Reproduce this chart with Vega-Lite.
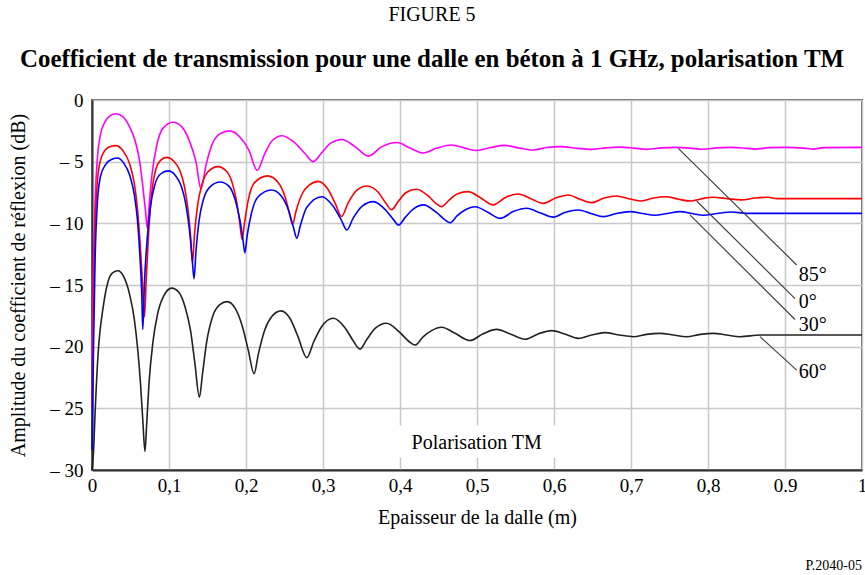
{
  "$schema": "https://vega.github.io/schema/vega-lite/v6.json",
  "autosize": "none",
  "width": 770,
  "height": 370,
  "padding": {"left": 92, "top": 100, "right": 3, "bottom": 105},
  "background": "white",
  "config": {
    "view": {"stroke": "#666", "strokeWidth": 2},
    "font": "Liberation Serif, Times New Roman, serif"
  },
  "title": {
    "text": "FIGURE 5",
    "subtitle": "Coefficient de transmission pour une dalle en béton à 1 GHz, polarisation TM",
    "font": "Liberation Serif, Times New Roman, serif",
    "fontSize": 20,
    "fontWeight": "normal",
    "color": "black",
    "subtitleFont": "Liberation Serif, Times New Roman, serif",
    "subtitleFontSize": 24.9,
    "subtitleFontWeight": "bold",
    "subtitleColor": "black",
    "subtitlePadding": 22,
    "anchor": "middle",
    "dx": -45,
    "offset": 19
  },
  "datasets": {
    "curves": [
      {"s":"85°","x":0,"y":-21},{"s":"85°","x":0.002,"y":-13},{"s":"85°","x":0.004,"y":-8.2},{"s":"85°","x":0.007,"y":-4.7},{"s":"85°","x":0.011,"y":-2.8},{"s":"85°","x":0.017,"y":-1.75},{"s":"85°","x":0.023,"y":-1.3},{"s":"85°","x":0.031,"y":-1.12},{"s":"85°","x":0.040,"y":-1.35},{"s":"85°","x":0.049,"y":-2.2},{"s":"85°","x":0.056,"y":-3.3},{"s":"85°","x":0.062,"y":-5.0},{"s":"85°","x":0.066,"y":-7.0},{"s":"85°","x":0.0695,"y":-9.0},{"s":"85°","x":0.0718,"y":-10.4},{"s":"85°","x":0.0745,"y":-8.3},{"s":"85°","x":0.078,"y":-6.0},{"s":"85°","x":0.084,"y":-3.7},{"s":"85°","x":0.092,"y":-2.3},{"s":"85°","x":0.1055,"y":-1.8},{"s":"85°","x":0.117,"y":-2.2},{"s":"85°","x":0.127,"y":-3.4},{"s":"85°","x":0.135,"y":-5.0},{"s":"85°","x":0.1415,"y":-7.2},{"s":"85°","x":0.148,"y":-5.3},{"s":"85°","x":0.156,"y":-3.6},{"s":"85°","x":0.166,"y":-2.75},{"s":"85°","x":0.179,"y":-2.5},{"s":"85°","x":0.192,"y":-3.0},{"s":"85°","x":0.204,"y":-4.1},{"s":"85°","x":0.2145,"y":-5.7},{"s":"85°","x":0.224,"y":-4.4},{"s":"85°","x":0.234,"y":-3.3},{"s":"85°","x":0.247,"y":-2.9},{"s":"85°","x":0.262,"y":-3.4},{"s":"85°","x":0.276,"y":-4.3},{"s":"85°","x":0.2875,"y":-5.0},{"s":"85°","x":0.298,"y":-4.3},{"s":"85°","x":0.310,"y":-3.5},{"s":"85°","x":0.3245,"y":-3.2},{"s":"85°","x":0.342,"y":-3.8},{"s":"85°","x":0.359,"y":-4.55},{"s":"85°","x":0.376,"y":-3.8},{"s":"85°","x":0.396,"y":-3.45},{"s":"85°","x":0.413,"y":-3.9},{"s":"85°","x":0.430,"y":-4.3},{"s":"85°","x":0.448,"y":-3.9},{"s":"85°","x":0.467,"y":-3.65},{"s":"85°","x":0.484,"y":-3.9},{"s":"85°","x":0.500,"y":-4.1},{"s":"85°","x":0.518,"y":-3.85},{"s":"85°","x":0.536,"y":-3.68},{"s":"85°","x":0.555,"y":-3.9},{"s":"85°","x":0.573,"y":-4.05},{"s":"85°","x":0.590,"y":-3.85},{"s":"85°","x":0.608,"y":-3.78},{"s":"85°","x":0.630,"y":-3.92},{"s":"85°","x":0.649,"y":-4.0},{"s":"85°","x":0.668,"y":-3.88},{"s":"85°","x":0.686,"y":-3.82},{"s":"85°","x":0.704,"y":-3.9},{"s":"85°","x":0.720,"y":-4.0},{"s":"85°","x":0.740,"y":-3.88},{"s":"85°","x":0.758,"y":-3.84},{"s":"85°","x":0.776,"y":-3.9},{"s":"85°","x":0.793,"y":-3.99},{"s":"85°","x":0.811,"y":-3.88},{"s":"85°","x":0.830,"y":-3.84},{"s":"85°","x":0.850,"y":-3.92},{"s":"85°","x":0.862,"y":-3.98},{"s":"85°","x":0.880,"y":-3.86},{"s":"85°","x":0.900,"y":-3.84},{"s":"85°","x":0.925,"y":-3.9},{"s":"85°","x":0.937,"y":-3.98},{"s":"85°","x":0.950,"y":-3.86},{"s":"85°","x":1.0,"y":-3.84},

      {"s":"0°","x":0,"y":-25},{"s":"0°","x":0.002,"y":-16},{"s":"0°","x":0.004,"y":-10.3},{"s":"0°","x":0.007,"y":-6.6},{"s":"0°","x":0.011,"y":-4.9},{"s":"0°","x":0.018,"y":-4.0},{"s":"0°","x":0.025,"y":-3.75},{"s":"0°","x":0.031,"y":-3.7},{"s":"0°","x":0.040,"y":-4.1},{"s":"0°","x":0.049,"y":-5.2},{"s":"0°","x":0.055,"y":-6.8},{"s":"0°","x":0.059,"y":-8.8},{"s":"0°","x":0.0625,"y":-11.6},{"s":"0°","x":0.0655,"y":-14.8},{"s":"0°","x":0.068,"y":-17.6},{"s":"0°","x":0.0705,"y":-14.5},{"s":"0°","x":0.0735,"y":-10.8},{"s":"0°","x":0.0775,"y":-7.6},{"s":"0°","x":0.083,"y":-5.6},{"s":"0°","x":0.089,"y":-4.9},{"s":"0°","x":0.097,"y":-4.65},{"s":"0°","x":0.106,"y":-4.95},{"s":"0°","x":0.114,"y":-5.7},{"s":"0°","x":0.120,"y":-7.0},{"s":"0°","x":0.1245,"y":-8.8},{"s":"0°","x":0.128,"y":-11.0},{"s":"0°","x":0.1305,"y":-13.2},{"s":"0°","x":0.133,"y":-11.0},{"s":"0°","x":0.137,"y":-8.6},{"s":"0°","x":0.143,"y":-6.8},{"s":"0°","x":0.151,"y":-5.8},{"s":"0°","x":0.1635,"y":-5.4},{"s":"0°","x":0.175,"y":-5.8},{"s":"0°","x":0.1825,"y":-6.8},{"s":"0°","x":0.188,"y":-8.3},{"s":"0°","x":0.192,"y":-10.0},{"s":"0°","x":0.195,"y":-11.3},{"s":"0°","x":0.198,"y":-10.0},{"s":"0°","x":0.203,"y":-8.1},{"s":"0°","x":0.211,"y":-6.7},{"s":"0°","x":0.228,"y":-6.15},{"s":"0°","x":0.242,"y":-6.7},{"s":"0°","x":0.251,"y":-7.9},{"s":"0°","x":0.2565,"y":-9.2},{"s":"0°","x":0.2605,"y":-10.1},{"s":"0°","x":0.265,"y":-9.0},{"s":"0°","x":0.273,"y":-7.6},{"s":"0°","x":0.282,"y":-6.9},{"s":"0°","x":0.294,"y":-6.6},{"s":"0°","x":0.306,"y":-7.2},{"s":"0°","x":0.316,"y":-8.4},{"s":"0°","x":0.324,"y":-9.45},{"s":"0°","x":0.333,"y":-8.3},{"s":"0°","x":0.344,"y":-7.3},{"s":"0°","x":0.3575,"y":-6.97},{"s":"0°","x":0.372,"y":-7.5},{"s":"0°","x":0.382,"y":-8.4},{"s":"0°","x":0.389,"y":-8.9},{"s":"0°","x":0.398,"y":-8.2},{"s":"0°","x":0.408,"y":-7.5},{"s":"0°","x":0.4215,"y":-7.24},{"s":"0°","x":0.437,"y":-7.8},{"s":"0°","x":0.447,"y":-8.4},{"s":"0°","x":0.454,"y":-8.65},{"s":"0°","x":0.464,"y":-8.1},{"s":"0°","x":0.475,"y":-7.6},{"s":"0°","x":0.4885,"y":-7.43},{"s":"0°","x":0.504,"y":-7.9},{"s":"0°","x":0.521,"y":-8.5},{"s":"0°","x":0.537,"y":-7.9},{"s":"0°","x":0.5535,"y":-7.62},{"s":"0°","x":0.570,"y":-8.0},{"s":"0°","x":0.586,"y":-8.38},{"s":"0°","x":0.602,"y":-7.95},{"s":"0°","x":0.6185,"y":-7.7},{"s":"0°","x":0.634,"y":-8.05},{"s":"0°","x":0.649,"y":-8.32},{"s":"0°","x":0.665,"y":-7.95},{"s":"0°","x":0.681,"y":-7.78},{"s":"0°","x":0.697,"y":-8.0},{"s":"0°","x":0.712,"y":-8.19},{"s":"0°","x":0.729,"y":-7.95},{"s":"0°","x":0.746,"y":-7.84},{"s":"0°","x":0.762,"y":-8.05},{"s":"0°","x":0.777,"y":-8.19},{"s":"0°","x":0.792,"y":-8.0},{"s":"0°","x":0.807,"y":-7.89},{"s":"0°","x":0.825,"y":-8.0},{"s":"0°","x":0.8435,"y":-8.1},{"s":"0°","x":0.861,"y":-7.95},{"s":"0°","x":0.878,"y":-7.89},{"s":"0°","x":0.890,"y":-8.0},{"s":"0°","x":1.0,"y":-8.0},

      {"s":"30°","x":0,"y":-28.4},{"s":"30°","x":0.002,"y":-20},{"s":"30°","x":0.004,"y":-13},{"s":"30°","x":0.007,"y":-8.3},{"s":"30°","x":0.011,"y":-6.2},{"s":"30°","x":0.018,"y":-5.2},{"s":"30°","x":0.026,"y":-4.8},{"s":"30°","x":0.0335,"y":-4.7},{"s":"30°","x":0.041,"y":-5.1},{"s":"30°","x":0.049,"y":-6.1},{"s":"30°","x":0.055,"y":-7.7},{"s":"30°","x":0.059,"y":-9.7},{"s":"30°","x":0.062,"y":-12.4},{"s":"30°","x":0.0645,"y":-15.5},{"s":"30°","x":0.066,"y":-18.6},{"s":"30°","x":0.068,"y":-15.0},{"s":"30°","x":0.0715,"y":-11.4},{"s":"30°","x":0.076,"y":-8.6},{"s":"30°","x":0.0815,"y":-6.9},{"s":"30°","x":0.089,"y":-6.0},{"s":"30°","x":0.099,"y":-5.75},{"s":"30°","x":0.108,"y":-6.1},{"s":"30°","x":0.116,"y":-7.0},{"s":"30°","x":0.122,"y":-8.5},{"s":"30°","x":0.1265,"y":-10.5},{"s":"30°","x":0.130,"y":-12.8},{"s":"30°","x":0.1325,"y":-14.5},{"s":"30°","x":0.135,"y":-12.3},{"s":"30°","x":0.139,"y":-9.8},{"s":"30°","x":0.145,"y":-8.0},{"s":"30°","x":0.154,"y":-7.0},{"s":"30°","x":0.1665,"y":-6.65},{"s":"30°","x":0.178,"y":-7.0},{"s":"30°","x":0.186,"y":-8.1},{"s":"30°","x":0.192,"y":-9.7},{"s":"30°","x":0.196,"y":-11.3},{"s":"30°","x":0.1985,"y":-12.4},{"s":"30°","x":0.2015,"y":-11.0},{"s":"30°","x":0.207,"y":-9.2},{"s":"30°","x":0.215,"y":-7.9},{"s":"30°","x":0.233,"y":-7.3},{"s":"30°","x":0.246,"y":-7.8},{"s":"30°","x":0.255,"y":-8.9},{"s":"30°","x":0.2615,"y":-10.3},{"s":"30°","x":0.266,"y":-11.2},{"s":"30°","x":0.2705,"y":-10.2},{"s":"30°","x":0.279,"y":-8.7},{"s":"30°","x":0.2985,"y":-7.84},{"s":"30°","x":0.313,"y":-8.6},{"s":"30°","x":0.3235,"y":-9.7},{"s":"30°","x":0.331,"y":-10.54},{"s":"30°","x":0.339,"y":-9.6},{"s":"30°","x":0.351,"y":-8.6},{"s":"30°","x":0.3655,"y":-8.24},{"s":"30°","x":0.381,"y":-8.9},{"s":"30°","x":0.3915,"y":-9.7},{"s":"30°","x":0.398,"y":-10.14},{"s":"30°","x":0.407,"y":-9.5},{"s":"30°","x":0.418,"y":-8.8},{"s":"30°","x":0.4305,"y":-8.5},{"s":"30°","x":0.447,"y":-9.1},{"s":"30°","x":0.458,"y":-9.7},{"s":"30°","x":0.465,"y":-9.95},{"s":"30°","x":0.474,"y":-9.4},{"s":"30°","x":0.485,"y":-8.9},{"s":"30°","x":0.4975,"y":-8.65},{"s":"30°","x":0.514,"y":-9.1},{"s":"30°","x":0.530,"y":-9.6},{"s":"30°","x":0.547,"y":-9.05},{"s":"30°","x":0.5645,"y":-8.78},{"s":"30°","x":0.582,"y":-9.15},{"s":"30°","x":0.599,"y":-9.5},{"s":"30°","x":0.615,"y":-9.1},{"s":"30°","x":0.6315,"y":-8.92},{"s":"30°","x":0.648,"y":-9.2},{"s":"30°","x":0.664,"y":-9.46},{"s":"30°","x":0.681,"y":-9.2},{"s":"30°","x":0.699,"y":-9.05},{"s":"30°","x":0.715,"y":-9.2},{"s":"30°","x":0.731,"y":-9.35},{"s":"30°","x":0.747,"y":-9.2},{"s":"30°","x":0.764,"y":-9.05},{"s":"30°","x":0.779,"y":-9.2},{"s":"30°","x":0.794,"y":-9.35},{"s":"30°","x":0.812,"y":-9.2},{"s":"30°","x":0.8305,"y":-9.08},{"s":"30°","x":0.850,"y":-9.19},{"s":"30°","x":1.0,"y":-9.19},

      {"s":"60°","x":0,"y":-30},{"s":"60°","x":0.002,"y":-28.5},{"s":"60°","x":0.004,"y":-25.4},{"s":"60°","x":0.008,"y":-20.5},{"s":"60°","x":0.0145,"y":-16.8},{"s":"60°","x":0.021,"y":-14.7},{"s":"60°","x":0.027,"y":-14.0},{"s":"60°","x":0.0335,"y":-13.85},{"s":"60°","x":0.041,"y":-14.3},{"s":"60°","x":0.049,"y":-15.8},{"s":"60°","x":0.055,"y":-17.8},{"s":"60°","x":0.0595,"y":-20.3},{"s":"60°","x":0.063,"y":-23.0},{"s":"60°","x":0.066,"y":-26.0},{"s":"60°","x":0.0688,"y":-28.5},{"s":"60°","x":0.071,"y":-26.3},{"s":"60°","x":0.074,"y":-23.0},{"s":"60°","x":0.079,"y":-19.7},{"s":"60°","x":0.085,"y":-17.4},{"s":"60°","x":0.093,"y":-15.9},{"s":"60°","x":0.1035,"y":-15.25},{"s":"60°","x":0.113,"y":-15.6},{"s":"60°","x":0.121,"y":-16.8},{"s":"60°","x":0.128,"y":-18.7},{"s":"60°","x":0.1335,"y":-21.3},{"s":"60°","x":0.1395,"y":-24.1},{"s":"60°","x":0.1435,"y":-22.2},{"s":"60°","x":0.149,"y":-19.6},{"s":"60°","x":0.157,"y":-17.5},{"s":"60°","x":0.166,"y":-16.6},{"s":"60°","x":0.1755,"y":-16.35},{"s":"60°","x":0.186,"y":-16.9},{"s":"60°","x":0.195,"y":-18.3},{"s":"60°","x":0.203,"y":-20.3},{"s":"60°","x":0.2105,"y":-22.2},{"s":"60°","x":0.216,"y":-20.6},{"s":"60°","x":0.224,"y":-18.7},{"s":"60°","x":0.233,"y":-17.6},{"s":"60°","x":0.2455,"y":-17.1},{"s":"60°","x":0.257,"y":-17.7},{"s":"60°","x":0.267,"y":-19.1},{"s":"60°","x":0.279,"y":-20.9},{"s":"60°","x":0.288,"y":-19.6},{"s":"60°","x":0.298,"y":-18.4},{"s":"60°","x":0.3135,"y":-17.7},{"s":"60°","x":0.329,"y":-18.5},{"s":"60°","x":0.340,"y":-19.6},{"s":"60°","x":0.348,"y":-20.2},{"s":"60°","x":0.357,"y":-19.4},{"s":"60°","x":0.368,"y":-18.5},{"s":"60°","x":0.3825,"y":-18.1},{"s":"60°","x":0.399,"y":-18.8},{"s":"60°","x":0.412,"y":-19.6},{"s":"60°","x":0.4195,"y":-19.87},{"s":"60°","x":0.430,"y":-19.2},{"s":"60°","x":0.441,"y":-18.7},{"s":"60°","x":0.454,"y":-18.43},{"s":"60°","x":0.471,"y":-18.9},{"s":"60°","x":0.491,"y":-19.5},{"s":"60°","x":0.508,"y":-18.95},{"s":"60°","x":0.5255,"y":-18.6},{"s":"60°","x":0.544,"y":-19.0},{"s":"60°","x":0.5625,"y":-19.4},{"s":"60°","x":0.580,"y":-18.95},{"s":"60°","x":0.597,"y":-18.7},{"s":"60°","x":0.615,"y":-19.0},{"s":"60°","x":0.6315,"y":-19.33},{"s":"60°","x":0.649,"y":-19.05},{"s":"60°","x":0.666,"y":-18.86},{"s":"60°","x":0.685,"y":-19.05},{"s":"60°","x":0.703,"y":-19.19},{"s":"60°","x":0.720,"y":-19.0},{"s":"60°","x":0.7375,"y":-18.92},{"s":"60°","x":0.755,"y":-19.05},{"s":"60°","x":0.772,"y":-19.19},{"s":"60°","x":0.790,"y":-19.0},{"s":"60°","x":0.807,"y":-18.92},{"s":"60°","x":0.824,"y":-19.05},{"s":"60°","x":0.8415,"y":-19.19},{"s":"60°","x":0.868,"y":-19.06},{"s":"60°","x":1.0,"y":-19.06}
    ],
    "leaders": [
      {"s":"85°","x":0.7614,"y":-3.92,"x2":0.9152,"y2":-13.38},
      {"s":"0°","x":0.7853,"y":-8.19,"x2":0.913,"y2":-16.1},
      {"s":"30°","x":0.7766,"y":-9.32,"x2":0.913,"y2":-17.8},
      {"s":"60°","x":0.8675,"y":-19.19,"x2":0.9152,"y2":-21.9}
    ],
    "labels": [
      {"t":"85°","x":0.918,"y":-14.2},
      {"t":"0°","x":0.918,"y":-16.35},
      {"t":"30°","x":0.918,"y":-18.25},
      {"t":"60°","x":0.918,"y":-22.03}
    ],
    "box": [
      {"x":0.39,"x2":0.61,"y":-26.4,"y2":-29.0}
    ],
    "boxtext": [
      {"t":"Polarisation TM","x":0.4996,"y":-27.84}
    ],
    "note": [
      {"t":"P.2040-05","x":1.0,"y":-37.8}
    ]
  },
  "encoding": {
    "x": {
      "field": "x",
      "type": "quantitative",
      "scale": {"domain": [0, 1], "nice": false, "zero": false},
      "axis": {
        "values": [0, 0.1, 0.2, 0.3, 0.4, 0.5, 0.6, 0.7, 0.8, 0.9, 1],
        "labelExpr": "datum.value == 0 ? '0' : (datum.value > 0.99 ? '1' : (abs(datum.value - 0.9) < 0.001 ? '0.9' : replace(format(datum.value, '.1f'), '.', ',')))",
        "title": "Epaisseur de la dalle (m)",
        "grid": true,
        "gridColor": "#c8c8c8",
        "gridWidth": 1.5,
        "ticks": false,
        "domainColor": "#333",
        "domainWidth": 2,
        "labelFont": "Liberation Serif, Times New Roman, serif",
        "labelFontSize": 19,
        "labelColor": "black",
        "labelPadding": 6,
        "labelFlush": false,
        "labelOverlap": false,
        "titleFont": "Liberation Serif, Times New Roman, serif",
        "titleFontSize": 20,
        "titleFontWeight": "normal",
        "titleColor": "black",
        "titlePadding": 12
      }
    },
    "y": {
      "field": "y",
      "type": "quantitative",
      "scale": {"domain": [-30, 0], "nice": false, "zero": false},
      "axis": {
        "values": [-30, -25, -20, -15, -10, -5, 0],
        "labelExpr": "datum.value == 0 ? '0' : '– ' + format(-datum.value, 'd')",
        "title": "Amplitude du coefficient de réflexion (dB)",
        "grid": true,
        "gridColor": "#c8c8c8",
        "gridWidth": 1.5,
        "ticks": false,
        "domainColor": "#333",
        "domainWidth": 2,
        "labelFont": "Liberation Serif, Times New Roman, serif",
        "labelFontSize": 19,
        "labelColor": "black",
        "labelPadding": 9,
        "labelFlush": false,
        "labelOverlap": false,
        "titleFont": "Liberation Serif, Times New Roman, serif",
        "titleFontSize": 20,
        "titleFontWeight": "normal",
        "titleColor": "black",
        "titlePadding": 21
      }
    }
  },
  "layer": [
    {
      "data": {"name": "box"},
      "mark": {"type": "rect", "fill": "white", "stroke": null},
      "encoding": {"x2": {"field": "x2"}, "y2": {"field": "y2"}}
    },
    {
      "data": {"name": "curves"},
      "mark": {"type": "line", "interpolate": "monotone", "strokeWidth": 1.6},
      "encoding": {
        "color": {
          "field": "s",
          "type": "nominal",
          "scale": {"domain": ["85°", "0°", "30°", "60°"], "range": ["#ff00ff", "#ff0000", "#0000ff", "#222222"]},
          "legend": null
        },
        "detail": {"field": "s"}
      }
    },
    {
      "data": {"name": "leaders"},
      "mark": {"type": "rule", "color": "#444", "strokeWidth": 1.2},
      "encoding": {"x2": {"field": "x2"}, "y2": {"field": "y2"}}
    },
    {
      "data": {"name": "labels"},
      "mark": {"type": "text", "align": "left", "baseline": "middle", "font": "Liberation Serif, Times New Roman, serif", "fontSize": 20, "color": "black"},
      "encoding": {"text": {"field": "t"}}
    },
    {
      "data": {"name": "boxtext"},
      "mark": {"type": "text", "align": "center", "baseline": "middle", "font": "Liberation Serif, Times New Roman, serif", "fontSize": 20, "color": "black"},
      "encoding": {"text": {"field": "t"}}
    },
    {
      "data": {"name": "note"},
      "mark": {"type": "text", "align": "right", "baseline": "middle", "font": "Liberation Serif, Times New Roman, serif", "fontSize": 14, "color": "black"},
      "encoding": {"text": {"field": "t"}}
    }
  ]
}
